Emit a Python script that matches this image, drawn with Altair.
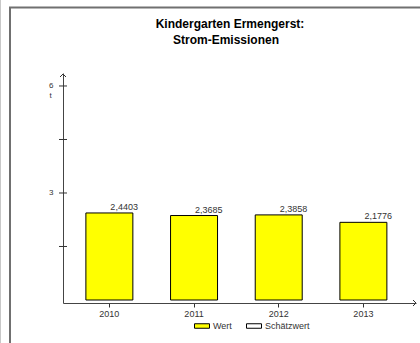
import altair as alt
import pandas as pd

years = ["2010", "2011", "2012", "2013"]
values = [2.4403, 2.3685, 2.3858, 2.1776]
series = ["Wert", "Wert", "Wert", "Wert"]
series_domain = ["Wert", "Schätzwert"]
y_tick_values = [1.5, 3, 4.5, 6]
y_label_values = [3, 6]
title_line1 = "Kindergarten Ermengerst:"
title_line2 = "Strom-Emissionen"

FONT = "Liberation Sans"

df = pd.DataFrame({"year": years, "value": values, "series": series})
ticks_df = pd.DataFrame({"tick": y_tick_values})

xscale = alt.Scale(range=[63, 416], paddingInner=0.445, paddingOuter=0.307, align=0.44)
yscale = alt.Scale(domain=[-0.084, 6.364], range=[303, 73], nice=False, zero=False)

base = alt.Chart(df)

bars = base.mark_bar(stroke="#000000", strokeWidth=1, opacity=1).encode(
    x=alt.X("year:N", scale=xscale, sort=years,
            axis=alt.Axis(offset=-40, domainColor="#444444", domainWidth=1,
                          tickColor="#333333", tickSize=4, labelPadding=2,
                          labelFontSize=9, labelFont=FONT, labelColor="#333333",
                          labelAngle=0, title=None, grid=False)),
    y=alt.Y("value:Q", scale=yscale,
            axis=alt.Axis(values=y_label_values, offset=-63, ticks=False, tickSize=0,
                          labelPadding=10, domainColor="#444444", domainWidth=1,
                          labelFontSize=8, labelFont=FONT, labelColor="#333333",
                          grid=False, title="t", titleAngle=0, titleX=-13, titleY=95,
                          titleFontSize=8, titleFont=FONT, titleFontWeight="normal",
                          titleColor="#333333", titleAlign="center", titleBaseline="middle")),
    y2=alt.datum(0),
    color=alt.Color("series:N",
                    scale=alt.Scale(domain=series_domain, range=["#ffff00", "#ffffff"]),
                    legend=alt.Legend(orient="none", legendX=194, legendY=318,
                                      direction="horizontal", title=None,
                                      symbolType="M-1,-0.3H1V0.3H-1Z", symbolSize=225,
                                      symbolStrokeColor="#000000", symbolStrokeWidth=1,
                                      symbolOpacity=1, labelFontSize=9, labelFont=FONT,
                                      labelColor="#333333", columnPadding=12, labelOffset=3)),
)

labels = base.transform_calculate(
    lab="replace(format(datum.value, '.4f'), '.', ',')"
).mark_text(align="left", baseline="bottom", dx=1, dy=-1, fontSize=9, font=FONT,
            color="#333333").encode(
    x=alt.X("year:N", scale=xscale, sort=years),
    y=alt.Y("value:Q", scale=yscale),
    text="lab:N",
)

yticks = alt.Chart(ticks_df).mark_rule(color="#333333", strokeWidth=1).encode(
    y=alt.Y("tick:Q", scale=yscale),
    x=alt.value(59), x2=alt.value(67),
)

arrow_up = alt.Chart(pd.DataFrame({"a": [0]})).mark_point(
    shape="M-1,1L0,0L1,1", size=36, filled=False, stroke="#333333", strokeWidth=1, opacity=1
).encode(x=alt.value(63), y=alt.value(74))

arrow_right = alt.Chart(pd.DataFrame({"a": [0]})).mark_point(
    shape="M-1,-1L0,0L-1,1", size=36, filled=False, stroke="#333333", strokeWidth=1, opacity=1
).encode(x=alt.value(416), y=alt.value(303))

t1 = alt.Chart(pd.DataFrame({"t": [title_line1]})).mark_text(
    fontSize=12, fontWeight="bold", font=FONT, color="#000000", align="center", baseline="middle"
).encode(x=alt.value(230), y=alt.value(24), text="t:N")

t2 = alt.Chart(pd.DataFrame({"t": [title_line2]})).mark_text(
    fontSize=12, fontWeight="bold", font=FONT, color="#000000", align="center", baseline="middle"
).encode(x=alt.value(226), y=alt.value(40), text="t:N")

frame_top = alt.Chart(pd.DataFrame({"a": [0]})).mark_rule(color="#707070", strokeWidth=2).encode(
    x=alt.value(9), x2=alt.value(420), y=alt.value(7.5))
frame_left = alt.Chart(pd.DataFrame({"a": [0]})).mark_rule(color="#707070", strokeWidth=2).encode(
    x=alt.value(10), y=alt.value(7), y2=alt.value(343))
frame_outer = alt.Chart(pd.DataFrame({"a": [0]})).mark_rule(color="#c8c8c8", strokeWidth=1).encode(
    x=alt.value(0.5), y=alt.value(0), y2=alt.value(343))

chart = alt.layer(
    frame_outer, frame_top, frame_left, bars, labels, yticks, arrow_up, arrow_right, t1, t2
).properties(
    width=420, height=343, padding=0, autosize=alt.AutoSizeParams(type="none"),
    background="#ffffff"
).configure_view(stroke=None)

chart.save("out.html", embed_options={"renderer": "svg", "actions": False})
